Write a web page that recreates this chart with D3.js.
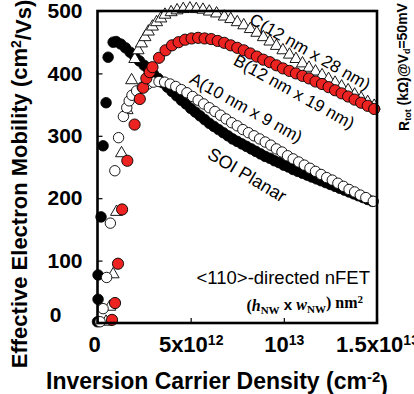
<!DOCTYPE html>
<html>
<head>
<meta charset="utf-8">
<script src="https://cdn.jsdelivr.net/npm/d3@7"></script>
<style>
  html, body { margin: 0; padding: 0; background: #fff; }
  svg { display: block; }
</style>
</head>
<body>
<svg id="chart" width="414" height="394"></svg>
<script>
// carrier density in units of 1e12 cm^-2, mobility in cm2/Vs
const soiX = [0.0, 0.03, 0.03, 0.19, 0.3, 0.46, 0.57, 0.84,
  1.0, 1.25, 1.5, 1.75, 2.0, 2.25, 2.5, 2.75, 3.0, 3.25, 3.5, 3.75, 4.0, 4.25, 4.5, 4.75,
  5.0, 5.25, 5.5, 5.75, 6.0, 6.25, 6.5, 6.75, 7.0, 7.25, 7.5, 7.75, 8.0, 8.25, 8.5, 8.75,
  9.0, 9.25, 9.5, 9.75, 10.0, 10.25, 10.5, 10.75, 11.0, 11.25, 11.5, 11.75, 12.0, 12.25,
  12.5, 12.75, 13.0, 13.25, 13.5, 13.75, 14.0, 14.25, 14.5, 14.75];
const soiY = [2, 38, 77, 170, 284, 353, 426, 450,
  451, 447, 441, 434, 427, 420, 413, 406, 399, 392, 385, 378, 371, 364, 357, 351,
  344, 338, 332, 326, 320, 315, 310, 305, 300, 295, 291, 287, 283, 279, 275, 271,
  267, 264, 260, 257, 253, 250, 246, 243, 240, 237, 234, 231, 228, 225,
  222, 219, 216, 213, 210, 207, 204, 201, 198, 195];

const aX = [0.14, 0.3, 0.49, 0.69, 0.93, 1.13, 1.39, 1.57, 1.7, 1.85, 2.1, 2.4, 2.7, 3.0,
  3.3, 3.6, 3.9, 4.2, 4.5, 4.8, 5.1, 5.4, 5.7, 6.0, 6.3, 6.6, 6.9, 7.2, 7.5, 7.8, 8.1,
  8.4, 8.7, 9.0, 9.3, 9.6, 9.9, 10.2, 10.5, 10.8, 11.1, 11.4, 11.7, 12.0, 12.3, 12.6,
  12.9, 13.2, 13.5, 13.8, 14.1, 14.4, 14.8];
const aY = [2, 23, 73, 160, 244, 297, 331, 345, 356, 365, 372, 378, 383, 386,
  387, 386, 383, 379, 374, 369, 363, 357, 351, 345, 339, 333, 327, 321, 316, 310, 305,
  300, 295, 290, 285, 279, 274, 268, 263, 258, 253, 248, 243, 238, 233, 229,
  224, 219, 214, 210, 205, 201, 195];

const bX = [0.78, 0.94, 1.1, 1.32, 1.6, 1.99, 2.27, 2.45, 2.62, 2.8, 2.95, 3.3, 3.65, 4.0,
  4.35, 4.7, 5.05, 5.4, 5.75, 6.1, 6.45, 6.8, 7.15, 7.5, 7.85, 8.2, 8.55, 8.9, 9.25,
  9.6, 9.95, 10.3, 10.65, 11.0, 11.35, 11.7, 12.05, 12.4, 12.75, 13.1, 13.45, 13.8,
  14.15, 14.5, 14.85];
const bY = [5, 32, 95, 182, 260, 318, 359, 377, 392, 402, 410, 425, 437, 445,
  450, 454, 456, 457, 456, 455, 452, 449, 445, 441, 437, 432, 427, 422, 418,
  413, 408, 404, 400, 396, 392, 387, 383, 378, 373, 368, 363, 358,
  353, 348, 343];

const cX = [0.46, 0.66, 0.84, 1.02, 1.29, 1.59, 1.83, 2.0, 2.18, 2.36, 2.55, 2.73, 2.95,
  3.17, 3.4, 3.62, 3.95, 4.27, 4.6, 4.96, 5.3, 5.66, 6.0, 6.39, 6.8, 7.15, 7.5, 7.85,
  8.2, 8.55, 8.9, 9.25, 9.6, 9.95, 10.3, 10.65, 11.0, 11.35, 11.7, 12.05, 12.4, 12.75,
  13.1, 13.45, 13.8, 14.15, 14.5, 14.85];
const cY = [2, 26, 78, 178, 272, 341, 389, 423, 437, 448, 458, 467, 475,
  482, 488, 494, 498, 501, 503, 504, 503, 502, 499, 496, 491, 487, 482, 477,
  471, 465, 458, 451, 444, 437, 430, 423, 416, 409, 403, 397, 391, 385,
  379, 373, 366, 360, 354, 348];

const xTicks = [0, 5, 10, 15];
const xTickBase = ["0", "5x10", "10", "1.5x10"];
const xTickExp = ["", "12", "13", "13"];
const yTicks = [0, 100, 200, 300, 400, 500];

const svg = d3.select("#chart");
const sans = "'Liberation Sans', Arial, Helvetica, sans-serif";
const serif = "'Liberation Serif', 'Times New Roman', serif";

const x = d3.scaleLinear().domain([0, 15]).range([97.5, 377]);
const y = d3.scaleLinear().domain([0, 500]).range([323, 11]);

const zip = (xs, ys) => xs.map((v, i) => [v, ys[i]]);

// --- markers (order: SOI, C, A, B) ---
svg.append("g").selectAll("circle")
  .data(zip(soiX, soiY)).enter().append("circle")
  .attr("cx", d => x(d[0])).attr("cy", d => y(d[1])).attr("r", 5.3)
  .attr("fill", "#000").attr("stroke", "#000").attr("stroke-width", 0.8);

const tri = d3.symbol().type(d3.symbolTriangle).size(62);
svg.append("g").selectAll("path")
  .data(zip(cX, cY)).enter().append("path")
  .attr("d", tri)
  .attr("transform", d => `translate(${x(d[0])},${y(d[1])})`)
  .attr("fill", "#fff").attr("stroke", "#000").attr("stroke-width", 0.9);

svg.append("g").selectAll("circle")
  .data(zip(aX, aY)).enter().append("circle")
  .attr("cx", d => x(d[0])).attr("cy", d => y(d[1])).attr("r", 5.2)
  .attr("fill", "#fff").attr("stroke", "#000").attr("stroke-width", 0.9);

svg.append("g").selectAll("circle")
  .data(zip(bX, bY)).enter().append("circle")
  .attr("cx", d => x(d[0])).attr("cy", d => y(d[1])).attr("r", 5.6)
  .attr("fill", "#ec2320").attr("stroke", "#000").attr("stroke-width", 0.9);

// --- frame and axes ---
svg.append("rect")
  .attr("x", x(0)).attr("y", y(500))
  .attr("width", x(15) - x(0)).attr("height", y(0) - y(500))
  .attr("fill", "none").attr("stroke", "#000").attr("stroke-width", 2.6);

const yAxis = svg.append("g")
  .attr("transform", `translate(${x(0)},0)`)
  .call(d3.axisLeft(y).tickValues(yTicks).tickSizeInner(-5).tickSizeOuter(0).tickPadding(15));
yAxis.select(".domain").remove();
yAxis.selectAll("line").attr("stroke-width", 1.2);
yAxis.selectAll("text")
  .style("font-family", sans).style("font-size", "21px").style("font-weight", "bold")
  .attr("fill", "#000");
yAxis.selectAll(".tick").filter(d => d === 0).select("text")
  .attr("x", -36).attr("dy", "-0.05em");

const xAxis = svg.append("g")
  .attr("transform", `translate(0,${y(0)})`)
  .call(d3.axisBottom(x).tickValues(xTicks).tickSizeInner(-5).tickSizeOuter(0).tickPadding(13).tickFormat(""));
xAxis.select(".domain").remove();
xAxis.selectAll("line").attr("stroke-width", 1.2);
xAxis.selectAll(".tick text")
  .style("font-family", sans).style("font-size", "22px").style("font-weight", "bold")
  .attr("fill", "#000")
  .each(function(d, i) {
    const t = d3.select(this);
    if (i === 0) t.attr("dx", "-0.15em");
    t.append("tspan").text(xTickBase[i]);
    if (xTickExp[i]) {
      t.append("tspan").attr("dy", "-0.45em").style("font-size", "14px").text(xTickExp[i]);
    }
  });

// --- axis titles ---
const yTitle = svg.append("text")
  .attr("transform", "translate(27,184) rotate(-90)")
  .attr("text-anchor", "middle")
  .style("font-family", sans).style("font-size", "22px").style("font-weight", "bold");
yTitle.append("tspan").text("Effective Electron Mobility (cm");
yTitle.append("tspan").attr("dy", "-0.45em").style("font-size", "14px").text("2");
yTitle.append("tspan").attr("dy", "0.45em").text("/Vs)");

const xTitle = svg.append("text")
  .attr("x", 217).attr("y", 389)
  .attr("text-anchor", "middle")
  .style("font-family", sans).style("font-size", "23px").style("font-weight", "bold");
xTitle.append("tspan").text("Inversion Carrier Density (cm");
xTitle.append("tspan").attr("dy", "-0.45em").style("font-size", "15px").text("-2");
xTitle.append("tspan").attr("dy", "0.45em").text(")");

const rTitle = svg.append("text")
  .attr("transform", "translate(409,67) rotate(-90)")
  .attr("text-anchor", "middle")
  .style("font-family", sans).style("font-size", "14px").style("font-weight", "bold");
rTitle.append("tspan").text("R");
rTitle.append("tspan").attr("dy", "0.25em").style("font-size", "9px").text("tot");
rTitle.append("tspan").attr("dy", "-0.25em").text(" (kΩ)@V");
rTitle.append("tspan").attr("dy", "0.25em").style("font-size", "9px").text("d");
rTitle.append("tspan").attr("dy", "-0.25em").text("=50mV");

// --- curve labels ---
const curveLabels = [
  { text: "C(12 nm x 28 nm)", cx: 310, cy: 52, angle: 30, size: 17 },
  { text: "B(12 nm x 19 nm)", cx: 294, cy: 92, angle: 29, size: 17 },
  { text: "A(10 nm x 9 nm)", cx: 246, cy: 108, angle: 29, size: 17 },
  { text: "SOI Planar", cx: 247, cy: 175, angle: 31, size: 18 }
];
svg.append("g").selectAll("text")
  .data(curveLabels).enter().append("text")
  .attr("transform", d => `translate(${d.cx},${d.cy}) rotate(${d.angle})`)
  .attr("text-anchor", "middle")
  .attr("dominant-baseline", "central")
  .style("font-family", sans)
  .style("font-size", d => d.size + "px")
  .text(d => d.text);

svg.append("text")
  .attr("x", 370).attr("y", 284)
  .attr("text-anchor", "end")
  .style("font-family", sans).style("font-size", "18.5px")
  .text("<110>-directed nFET");

const dim = svg.append("text")
  .attr("x", 363).attr("y", 311)
  .attr("text-anchor", "end")
  .style("font-family", serif).style("font-size", "16px").style("font-weight", "bold");
dim.append("tspan").text("(");
dim.append("tspan").style("font-style", "italic").text("h");
dim.append("tspan").attr("dy", "0.3em").style("font-size", "11px").text("NW");
dim.append("tspan").attr("dy", "-0.3em").style("font-family", sans).style("font-size", "15px").text(" x ");
dim.append("tspan").style("font-style", "italic").text("w");
dim.append("tspan").attr("dy", "0.3em").style("font-size", "11px").text("NW");
dim.append("tspan").attr("dy", "-0.3em").text(") nm");
dim.append("tspan").attr("dy", "-0.45em").style("font-size", "11px").text("2");
</script>
</body>
</html>
